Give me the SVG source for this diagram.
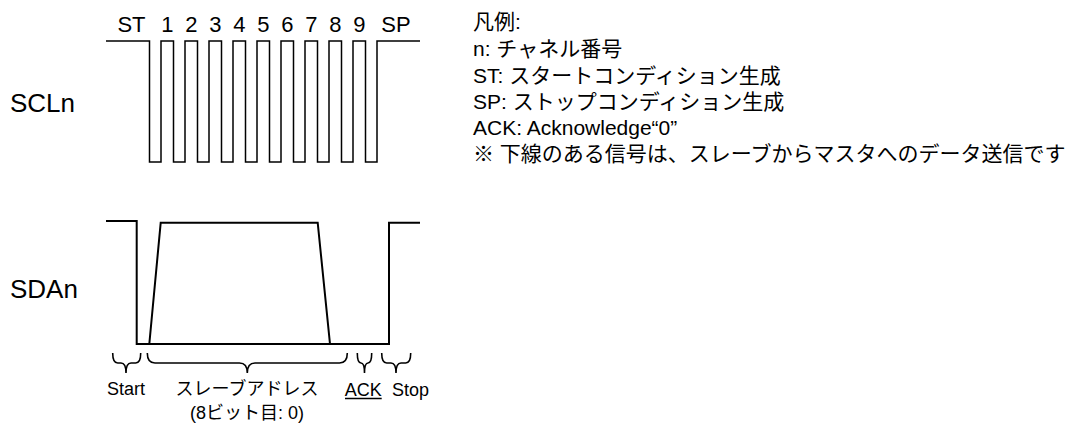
<svg xmlns="http://www.w3.org/2000/svg" width="1075" height="425" viewBox="0 0 1075 425">
<style>
text{font-family:"Liberation Sans","Noto Sans CJK JP",Arial,sans-serif;fill:#000}
.sig{font-size:26px}
.bit{font-size:22px;text-anchor:middle}
.leg{font-size:21px}
.lab{font-size:18px;text-anchor:middle}
.w{fill:none;stroke:#000;stroke-linejoin:miter}
.br{fill:none;stroke:#000;stroke-width:1.6}
</style>
<rect width="1075" height="425" fill="#fff"/>
<g id="scl-label"><text class="sig" x="10" y="111.5">SCLn</text></g>
<g id="sda-label"><text class="sig" x="10" y="298">SDAn</text></g>
<g id="bit-labels">
<text class="bit" x="131.5" y="31.5">ST</text>
<text class="bit" x="167.3" y="31.5">1</text>
<text class="bit" x="191.3" y="31.5">2</text>
<text class="bit" x="215.3" y="31.5">3</text>
<text class="bit" x="239.3" y="31.5">4</text>
<text class="bit" x="263.3" y="31.5">5</text>
<text class="bit" x="287.3" y="31.5">6</text>
<text class="bit" x="311.3" y="31.5">7</text>
<text class="bit" x="335.3" y="31.5">8</text>
<text class="bit" x="359.3" y="31.5">9</text>
<text class="bit" x="396" y="31.5">SP</text>
</g>
<g id="scl-wave">
<path class="w" stroke-width="1.5" d="M106,41 H149.5 V162 H161 V41 H173.5 V162 H185 V41 H197.5 V162 H209 V41 H221.5 V162 H233 V41 H245.5 V162 H257 V41 H269.5 V162 H281 V41 H293.5 V162 H305 V41 H317.5 V162 H329 V41 H341.5 V162 H353 V41 H365.5 V162 H377 V41 H420"/>
</g>
<g id="sda-wave">
<path class="w" stroke-width="2" d="M106,221 H136.7 V344 H389 V222.7 H420"/>
<path class="w" stroke-width="2" d="M149.3,344 L160.7,222.7 H317.7 L330,344"/>
</g>
<g id="braces">
<path class="br" d="M112.7,353 Q112.7,363 117.7,363 H121 Q126,363 126,373 Q126,363 131,363 H135.7 Q140.7,363 140.7,353"/>
<path class="br" d="M147.3,353 Q147.3,363 155,363 H239.5 Q247.3,363 247.3,373 Q247.3,363 255,363 H339.5 Q347.3,363 347.3,353"/>
<path class="br" d="M357.3,353 Q357.3,363 361,363 Q364.5,363 364.5,373 Q364.5,363 368,363 Q371.7,363 371.7,353"/>
<path class="br" d="M381.7,353 Q381.7,363 386.7,363 H391 Q396,363 396,373 Q396,363 401,363 H405.7 Q410.7,363 410.7,353"/>
</g>
<g id="phase-labels">
<text class="lab" x="126" y="395">Start</text>
<text class="lab" x="247" y="395">スレーブアドレス</text>
<text class="lab" x="247" y="419">(8ビット目: 0)</text>
<text class="lab" x="363.3" y="396">ACK</text>
<line x1="345" y1="398.5" x2="381.7" y2="398.5" stroke="#000" stroke-width="1.3"/>
<text class="lab" x="410.5" y="396">Stop</text>
</g>
<g id="legend">
<text class="leg" x="473" y="29">凡例:</text>
<text class="leg" x="473" y="56">n: チャネル番号</text>
<text class="leg" x="473" y="82.5">ST: スタートコンディション生成</text>
<text class="leg" x="473" y="109">SP: ストップコンディション生成</text>
<text class="leg" x="473" y="135">ACK: Acknowledge“0”</text>
<text class="leg" x="473" y="161">※ 下線のある信号は、スレーブからマスタへのデータ送信です</text>
</g>
</svg>
